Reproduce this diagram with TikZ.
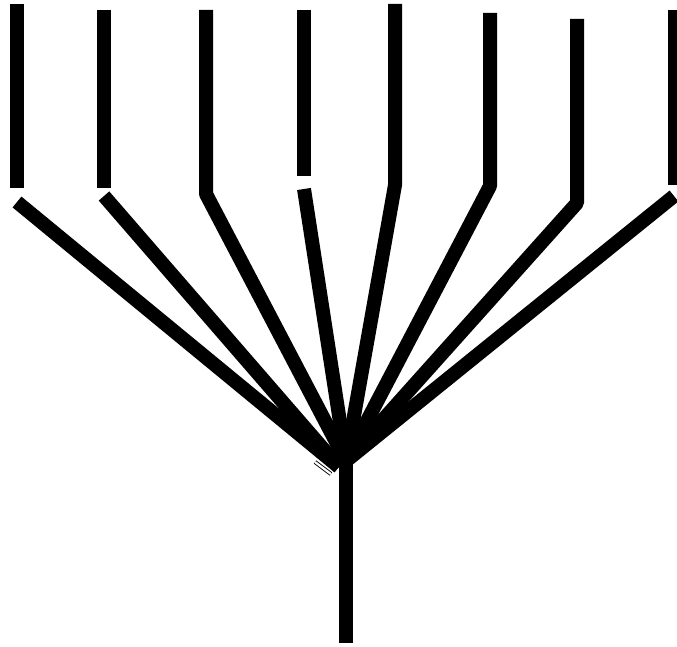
\documentclass[tikz,border=0pt]{standalone}
\begin{document}
\begin{tikzpicture}[x=1pt,y=-1pt,
  branch/.style={line width=14pt,line cap=butt,line join=bevel,black},
  tick/.style={line width=0.9pt,double=white,double distance=2.2pt,black}]
\useasboundingbox (0,0) rectangle (677,647);
% junction and root
\coordinate (J) at (346,461);
\coordinate (JL) at (339,467);
\coordinate (R) at (346,643);
% leaf tops
\coordinate (t1) at (17,4);   \coordinate (b1) at (17,188);  \coordinate (d1) at (17,202);
\coordinate (t2) at (104,10); \coordinate (b2) at (104,188); \coordinate (d2) at (104,196);
\coordinate (t3) at (206,10); \coordinate (b3) at (206,194);
\coordinate (t4) at (304,10); \coordinate (b4) at (304,176); \coordinate (d4) at (304,189);
\coordinate (t5) at (395,4);  \coordinate (b5) at (395,185);
\coordinate (t6) at (490,13); \coordinate (b6) at (490,186);
\coordinate (t7) at (577,19); \coordinate (b7) at (577,203);
\coordinate (t8) at (675,10); \coordinate (b8) at (675,185); \coordinate (d8) at (674,196);
\coordinate (k1) at (315,462); \coordinate (k2) at (331,474);
% vertical leaves
\draw[branch] (t1) -- (b1);
\draw[branch] (t2) -- (b2);
\draw[branch] (t4) -- (b4);
\draw[branch] (t8) -- (b8);
% diagonal branches
\draw[branch] (d1) -- (JL);
\draw[branch] (d2) -- (JL);
\draw[branch] (t3) -- (b3) -- (J);
\draw[branch] (d4) -- (J);
\draw[branch] (t5) -- (b5) -- (J);
\draw[branch] (t6) -- (b6) -- (J);
\draw[branch] (t7) -- (b7) -- (J);
\draw[branch] (d8) -- (J);
% small mark at junction
\draw[tick] (k1) -- (k2);
% stem
\draw[branch] (346,458) -- (R);
\end{tikzpicture}
\end{document}
